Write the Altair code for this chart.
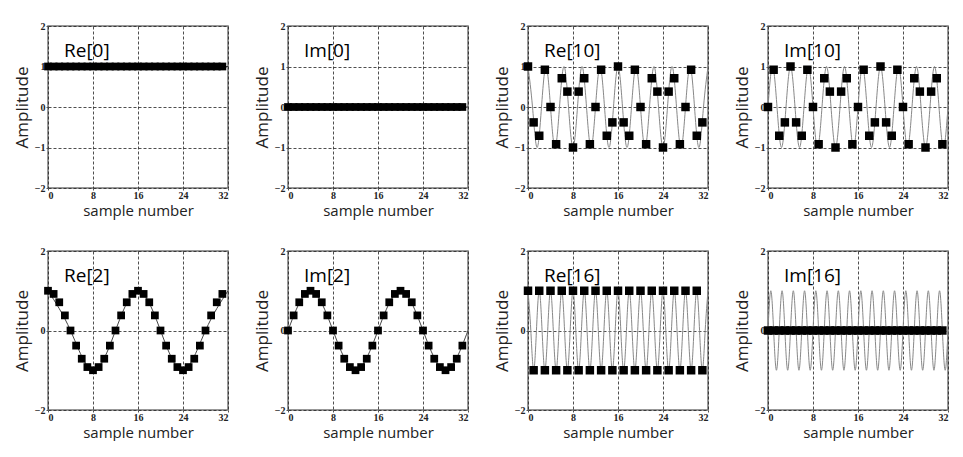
import altair as alt
import pandas as pd

# sample indices
n = list(range(32))

# sample values
re0 = [1] * 32
im0 = [0] * 32
re2 = [1, 0.92, 0.71, 0.38, 0, -0.38, -0.71, -0.92, -1, -0.92, -0.71, -0.38, 0, 0.38, 0.71, 0.92] * 2
im2 = [0, 0.38, 0.71, 0.92, 1, 0.92, 0.71, 0.38, 0, -0.38, -0.71, -0.92, -1, -0.92, -0.71, -0.38] * 2
re10 = [1, -0.38, -0.71, 0.92, 0, -0.92, 0.71, 0.38, -1, 0.38, 0.71, -0.92, 0, 0.92, -0.71, -0.38] * 2
im10 = [0, 0.92, -0.71, -0.38, 1, -0.38, -0.71, 0.92, 0, -0.92, 0.71, 0.38, -1, 0.38, 0.71, -0.92] * 2
re16 = [1, -1] * 16
im16 = [0] * 32

# continuous-curve knots (peaks and zero crossings)
c0_x = [0, 32]
re0_cy = [1, 1]
im0_cy = [0, 0]
c2_x = [0, 4, 8, 12, 16, 20, 24, 28, 32]
re2_cy = [1, 0, -1, 0, 1, 0, -1, 0, 1]
im2_cy = [0, 1, 0, -1, 0, 1, 0, -1, 0]
c10_x = [i * 0.8 for i in range(41)]
re10_cy = [1, 0, -1, 0] * 10 + [1]
im10_cy = [0, 1, 0, -1] * 10 + [0]
c16_x = [i * 0.5 for i in range(65)]
re16_cy = [1, 0, -1, 0] * 16 + [1]
im16_cy = [0, 1, 0, -1] * 16 + [0]

x_ticks = [0, 8, 16, 24, 32]
y_ticks = [-2, -1, 0, 1, 2]

W = 180


def panel(samples, cx, cy, label, line_color, h, size):
    xs = alt.X("x:Q", scale=alt.Scale(domain=[0, 32], nice=False),
               axis=alt.Axis(values=x_ticks, title="sample number"))
    ys = alt.Y("y:Q", scale=alt.Scale(domain=[-2, 2], nice=False),
               axis=alt.Axis(values=y_ticks, title="Amplitude"))
    curve = alt.Chart(pd.DataFrame({"x": cx, "y": cy})).mark_line(
        interpolate="natural", color=line_color, strokeWidth=1
    ).encode(x=xs, y=ys)
    pts = alt.Chart(pd.DataFrame({"x": n, "y": samples})).mark_square(
        size=size, color="black", opacity=1
    ).encode(x="x:Q", y="y:Q")
    txt = alt.Chart(pd.DataFrame({"label": [label]})).mark_text(
        align="left", baseline="middle", font="Open Sans", fontSize=19, color="black"
    ).encode(x=alt.value(16), y=alt.value(25), text="label:N")
    return alt.layer(curve, pts, txt).properties(width=W, height=h)


H1 = 162
H2 = 159
row1 = alt.hconcat(
    panel(re0, c0_x, re0_cy, "Re[0]", "#333", H1, 60),
    panel(im0, c0_x, im0_cy, "Im[0]", "#333", H1, 60),
    panel(re10, c10_x, re10_cy, "Re[10]", "#888", H1, 72),
    panel(im10, c10_x, im10_cy, "Im[10]", "#888", H1, 72),
    spacing=21,
)
row2 = alt.hconcat(
    panel(re2, c2_x, re2_cy, "Re[2]", "#444", H2, 60),
    panel(im2, c2_x, im2_cy, "Im[2]", "#444", H2, 60),
    panel(re16, c16_x, re16_cy, "Re[16]", "#888", H2, 72),
    panel(im16, c16_x, im16_cy, "Im[16]", "#888", H2, 72),
    spacing=21,
)

chart = alt.vconcat(row1, row2, spacing=26).properties(
    padding={"left": 4, "top": 12, "right": 0, "bottom": 0}
).configure_view(
    stroke="#777", strokeWidth=1.5
).configure_axis(
    domain=False,
    grid=True,
    gridColor="#222",
    gridDash=[3, 2],
    gridWidth=0.8,
    ticks=True,
    tickSize=2,
    tickColor="#555",
    labelFont="Liberation Serif",
    labelFontSize=10,
    labelFontWeight="bold",
    labelColor="#222",
    titleFont="Open Sans",
    titleFontWeight="normal",
    titleColor="#222",
).configure_axisX(
    titleFontSize=15, titlePadding=3, labelPadding=0
).configure_axisY(
    titleFontSize=17, titlePadding=3, labelPadding=1
)

chart.save("out.html", embed_options={"renderer": "svg", "actions": False})
